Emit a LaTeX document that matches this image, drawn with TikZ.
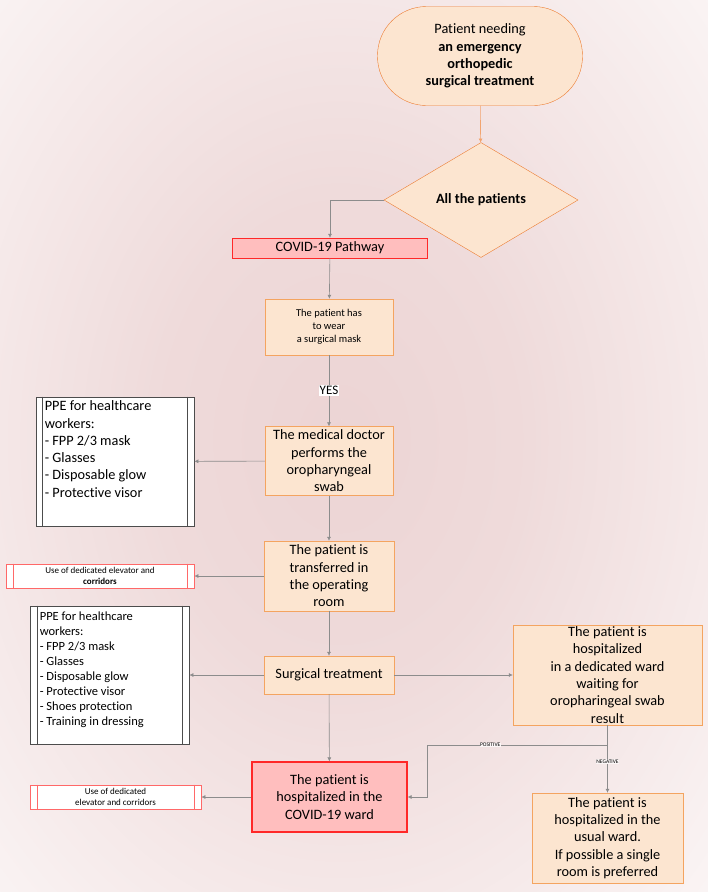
\documentclass[tikz,border=0pt]{standalone}
\usepackage{fontspec}
\setmainfont{Carlito}[Ligatures=NoCommon]
\usetikzlibrary{shapes.geometric,arrows.meta}

\definecolor{bg_glow}{RGB}{236,212,212}
\pgfdeclareradialshading{bgglow}{\pgfpoint{0bp}{0bp}}{color(0bp)=(bg_glow); color(12bp)=(bg_glow!85!white); color(42bp)=(white); color(50bp)=(white)}

\tikzset{
  stepbox/.style={shape=rectangle,draw=path_line,fill=path_fill,align=center,inner sep=1pt},
  covidbox/.style={shape=rectangle,draw=covid_line,fill=covid_fill,align=center,inner sep=1pt},
  ppebox/.style={shape=rectangle,draw=black!70,fill=white,line width=0.8pt},
  liftbox/.style={shape=rectangle,draw=covid_line!70,fill=white,line width=0.8pt},
  link/.style={draw=black!45,line width=0.6pt,-{Latex[length=4pt,width=4pt]}},
  txt/.style={font=\fontsize{14.3}{17.3}\selectfont},
}

\begin{document}
\begin{tikzpicture}[x=1pt,y=-1pt]
    \definecolor{path_fill}{RGB}{252,229,208}
    \definecolor{path_line}{RGB}{244,164,96}
    \definecolor{covid_fill}{RGB}{255,190,190}
    \definecolor{covid_line}{RGB}{255,40,40}
    \definecolor{start_line}{RGB}{237,125,49}
    % background
    \useasboundingbox (0,0) rectangle (708,892);
    \begin{scope}
      \clip (0,0) rectangle (708,892);
      \shade[shading=bgglow] (-40,-60) rectangle (720,940);
    \end{scope}
    % main pathway
    \node[stepbox,draw=start_line,rounded corners=49pt,minimum width=205pt,minimum height=99pt,txt] (start) at (480,56)
        {Patient needing\\ \textbf{an emergency}\\ \textbf{orthopedic}\\ \textbf{surgical treatment}};
    \node[shape=diamond,draw=start_line,fill=path_fill,inner sep=0pt,minimum width=194pt,minimum height=115pt,font=\fontsize{14.2}{16}\selectfont\bfseries] (allpat) at (481,200) {All the patients};
    \node[covidbox,minimum width=195pt,minimum height=20pt,txt] (covid) at (330,248) {COVID-19 Pathway};
    \node[stepbox,minimum width=128pt,minimum height=56pt,font=\fontsize{10.5}{13}\selectfont] (mask) at (329,327) {The patient has\\ to wear\\ a surgical mask};
    \node[stepbox,minimum width=128pt,minimum height=69pt,txt] (swab) at (329,461) {The medical doctor\\ performs the\\ oropharyngeal\\ swab};
    \node[stepbox,minimum width=130pt,minimum height=70pt,txt] (transfer) at (329,576) {The patient is\\ transferred in\\ the operating\\ room};
    \node[stepbox,minimum width=130pt,minimum height=38pt,txt] (surgery) at (329,675) {Surgical treatment};
    \node[covidbox,line width=1.2pt,minimum width=155pt,minimum height=70pt,txt] (covidward) at (329.5,797) {The patient is\\ hospitalized in the\\ COVID-19 ward};
    \node[stepbox,minimum width=189pt,minimum height=100pt,txt] (waitward) at (607.5,675) {The patient is\\ hospitalized\\ in a dedicated ward\\ waiting for\\ oropharingeal swab\\ result};
    \node[stepbox,minimum width=151pt,minimum height=90pt,txt] (usualward) at (607.5,838) {The patient is\\ hospitalized in the\\ usual ward.\\ If possible a single\\ room is preferred};
    % side boxes
    \node[ppebox,minimum width=158pt,minimum height=129pt] (ppeA) at (115,461.5) {};
    \draw[black!70,line width=0.8pt] ([xshift=7pt]ppeA.north west) -- ([xshift=7pt]ppeA.south west)
        ([xshift=-7pt]ppeA.north east) -- ([xshift=-7pt]ppeA.south east);
    \node[anchor=north west,inner sep=0pt,align=left,txt] (ppeAtext) at ([shift={(9,4)}]ppeA.north west)
        {PPE for healthcare\\ workers:\\ - FPP 2/3 mask\\ - Glasses\\ - Disposable glow\\ - Protective visor};
    \node[ppebox,minimum width=159pt,minimum height=138pt] (ppeB) at (109.5,675) {};
    \draw[black!70,line width=0.8pt] ([xshift=8pt]ppeB.north west) -- ([xshift=8pt]ppeB.south west)
        ([xshift=-7pt]ppeB.north east) -- ([xshift=-7pt]ppeB.south east);
    \node[anchor=north west,inner sep=0pt,align=left,font=\fontsize{12.5}{15}\selectfont] (ppeBtext) at ([shift={(10,6)}]ppeB.north west)
        {PPE for healthcare\\ workers:\\ - FPP 2/3 mask\\ - Glasses\\ - Disposable glow\\ - Protective visor\\ - Shoes protection\\ - Training in dressing};
    \node[liftbox,minimum width=188pt,minimum height=24pt,align=center,font=\fontsize{9}{11}\selectfont] (liftA) at (100,576)
        {Use of dedicated elevator and\\ \textbf{corridors}};
    \draw[covid_line!70,line width=0.8pt] ([xshift=8pt]liftA.north west) -- ([xshift=8pt]liftA.south west)
        ([xshift=-7pt]liftA.north east) -- ([xshift=-7pt]liftA.south east);
    \node[liftbox,minimum width=171pt,minimum height=24pt,align=center,font=\fontsize{9}{11}\selectfont] (liftB) at (115.5,797)
        {Use of dedicated\\ elevator and corridors};
    \draw[covid_line!70,line width=0.8pt] ([xshift=8pt]liftB.north west) -- ([xshift=8pt]liftB.south west)
        ([xshift=-7pt]liftB.north east) -- ([xshift=-7pt]liftB.south east);
    % connectors
    \draw[link,draw=start_line!70] (start) -- (allpat);
    \draw[link] (allpat.west) -| (covid.north);
    \draw[link] (covid) -- (mask);
    \draw[link] (mask) -- node[fill=white,inner sep=1pt,font=\fontsize{13}{15}\selectfont] (yes) {YES} (swab);
    \draw[link] (swab) -- (ppeA);
    \draw[link] (swab) -- (transfer);
    \draw[link] (transfer) -- (liftA);
    \draw[link] (transfer) -- (surgery);
    \draw[link] (surgery) -- (ppeB);
    \draw[link] (surgery) -- (waitward);
    \draw[link] (surgery) -- (covidward);
    \draw[link] (covidward) -- (liftB);
    \coordinate (split) at (607.5,745);
    \coordinate (turn) at (427,745);
    \draw[draw=black!45,line width=0.6pt] (waitward.south) -- (split);
    \draw[link] (split) -- node[pos=0.65,fill=white!80!bg_glow,inner sep=0.5pt,font=\fontsize{5.5}{6}\selectfont] (pos) {POSITIVE} (turn) |- (covidward.east);
    \draw[link] (split) -- node[pos=0.35,fill=white!80!bg_glow,inner sep=0.5pt,font=\fontsize{5.5}{6}\selectfont] (neg) {NEGATIVE} (usualward.north);
\end{tikzpicture}
\end{document}
